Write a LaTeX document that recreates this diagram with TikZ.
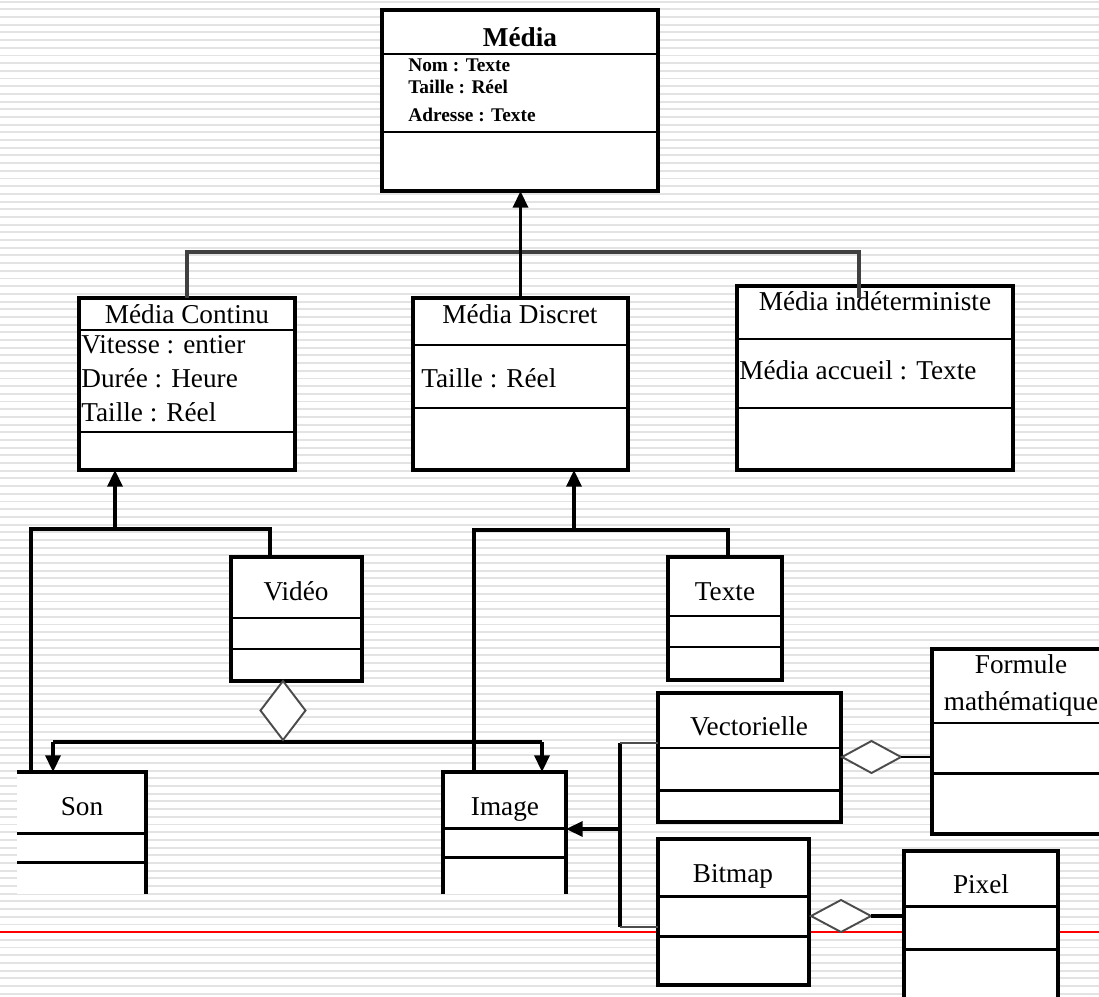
\documentclass[tikz,border=0pt]{standalone}
\usepackage{fontspec}
\setmainfont{Liberation Serif}
\usetikzlibrary{calc,positioning,arrows.meta,shapes.geometric}

\begin{document}
\begin{tikzpicture}[x=0.02cm, y=-0.02cm,
  sz/.style 2 args={minimum width=#1*0.02cm, minimum height=#2*0.02cm},
  ttl/.style={anchor=base, inner sep=0pt, font=\fontsize{15.5}{18}\selectfont},
  att/.style={anchor=base west, inner sep=0pt, font=\fontsize{15.5}{18}\selectfont},
  ln/.style={line width=2pt},
  arr/.style={line width=2pt, -{Triangle[width=8.5pt,length=9.5pt]}},
  bus/.style={line width=2.8pt, draw=black!75},
  dia/.style={diamond, draw=black!70, line width=1.1pt, fill=white, inner sep=0pt, outer sep=0pt}]
\tikzstyle{cls}=[draw, line width=2pt, fill=white, inner sep=0pt, outer sep=0pt, anchor=north west]
\useasboundingbox (0,0) rectangle (1099,997);
\clip (0,0) rectangle (1099,997);
% lined paper
\fill[white] (0,0) rectangle (1099,997);
\foreach \k in {0,...,129}{\fill[black!11] (0,{0.7+\k*7.69}) rectangle (1099,{2.6+\k*7.69});}
\draw[red, line width=0.6pt] (0,932) -- (1099,932);
% classes
\node[cls, sz={276}{181}] (Media) at (382,10) {};
\node[cls, sz={216}{172}] (Cont) at (79,298) {};
\node[cls, sz={215}{172}] (Disc) at (413,298) {};
\node[cls, sz={276}{184}] (Indet) at (737,286) {};
\node[cls, sz={131}{124}] (Video) at (231,557) {};
\node[cls, sz={114}{123}] (Texte) at (668,557) {};
\node[cls, draw=none, sz={129}{122}] (Son) at (17,772) {};
\node[cls, draw=none, sz={123}{122}] (Img) at (443,772) {};
\node[cls, sz={183}{129}] (Vect) at (658,693) {};
\node[cls, sz={151}{146}] (Bitm) at (658,839) {};
\node[cls, sz={180}{185}] (Form) at (932,649) {};
\node[cls, sz={154}{160}] (Pix) at (904,851) {};
\draw[ln] (Son.north west) -- (Son.north east) -- (Son.south east);
\draw[ln] (Img.south west) -- (Img.north west) -- (Img.north east) -- (Img.south east);
% compartments
\foreach \xa/\xb/\y in {382/658/54, 382/658/132, 79/295/330, 79/295/432, 413/628/345, 413/628/408,
  737/1013/339, 737/1013/408, 231/362/618, 231/362/649, 668/782/616, 668/782/647,
  17/146/833, 17/146/862, 443/566/828, 443/566/857, 658/841/748, 658/841/790,
  658/809/896, 658/809/936, 932/1112/723, 932/1112/773, 904/1058/906, 904/1058/949}
  {\draw[line width=1.7pt] (\xa,\y) -- (\xb,\y);}
% texts
\node[ttl, font=\fontsize{15.5}{18}\selectfont\bfseries] (tMedia) at (520,47) {Média};
\node[att, font=\fontsize{11}{13}\selectfont\bfseries] (aNom) at (408,72) {Nom : Texte};
\node[att, font=\fontsize{11}{13}\selectfont\bfseries] (aTaille) at (408,94) {Taille : Réel};
\node[att, font=\fontsize{11}{13}\selectfont\bfseries] (aAdr) at (408,122) {Adresse : Texte};
\node[ttl] (tCont) at (187,323) {Média Continu};
\node[att] (aVit) at (81,353) {Vitesse : entier};
\node[att] (aDur) at (81,387) {Durée : Heure};
\node[att] (aTc) at (81,421) {Taille : Réel};
\node[ttl] (tDisc) at (520,323) {Média Discret};
\node[att] (aTd) at (421,387) {Taille : Réel};
\node[ttl] (tIndet) at (875,310) {Média indéterministe};
\node[att] (aAcc) at (739,379) {Média accueil : Texte};
\node[ttl] (tVideo) at (296,600) {Vidéo};
\node[ttl] (tTexte) at (725,600) {Texte};
\node[ttl] (tSon) at (82,815) {Son};
\node[ttl] (tImg) at (505,815) {Image};
\node[ttl] (tVect) at (749,735) {Vectorielle};
\node[ttl] (tBitm) at (733,882) {Bitmap};
\node[ttl] (tPix) at (981,893) {Pixel};
\node[ttl] (tForm) at (1021,673) {Formule};
\node[ttl] (tMath) at (1021,710) {mathématique};
% generalisation towards Média
\coordinate (jl) at (187,252);
\coordinate (jr) at (859,252);
\draw[bus] (Cont.north -| jl) -- (jl) -- (jr) -- (jr |- Disc.north);
\draw[arr] (Disc.north) -- (Disc.north |- Media.south);
% Média Continu children
\coordinate (jc) at (115,529);
\coordinate (jcl) at (31,529);
\coordinate (jcr) at (270,529);
\draw[arr] (jc) -- (Cont.south -| jc);
\draw[ln] (jcl |- Son.north) -- (jcl) -- (jcr) -- (jcr |- Video.north);
% Média Discret children
\coordinate (jd) at (574,530);
\coordinate (jdl) at (474,530);
\coordinate (jdr) at (728,530);
\draw[arr] (jd) -- (Disc.south -| jd);
\draw[ln] (jdl |- Img.north) -- (jdl) -- (jdr) -- (jdr |- Texte.north);
% aggregation Vidéo
\coordinate (ja) at (53,742);
\coordinate (jb) at (542,742);
\draw[ln] (ja) -- (jb);
\draw[arr] (ja) -- (ja |- Son.north);
\draw[arr] (jb) -- (jb |- Img.north);
\node[dia, sz={45}{59}, anchor=north] (dVideo) at (283,681) {};
% Vectorielle / Bitmap towards Image
\coordinate (jv) at (620,829);
\coordinate (bt) at (620,743);
\coordinate (bb) at (620,927);
\draw[arr] (jv) -- (Img.east |- jv);
\draw[ln] (bt) -- (bb);
\draw[line width=1.3pt, draw=black!70] (bt) -- (Vect.west |- bt);
\draw[line width=1.3pt, draw=black!70] (bb) -- (Bitm.west |- bb);
% aggregations on the right
\node[dia, sz={59}{32}, anchor=west] (dVect) at (842,757) {};
\draw[line width=1.5pt] (dVect.east) -- (Form.west |- dVect.east);
\node[dia, sz={60}{32}, anchor=west] (dBitm) at (811,916) {};
\draw[line width=2.6pt] (dBitm.east) -- (Pix.west |- dBitm.east);
\end{tikzpicture}
\end{document}
